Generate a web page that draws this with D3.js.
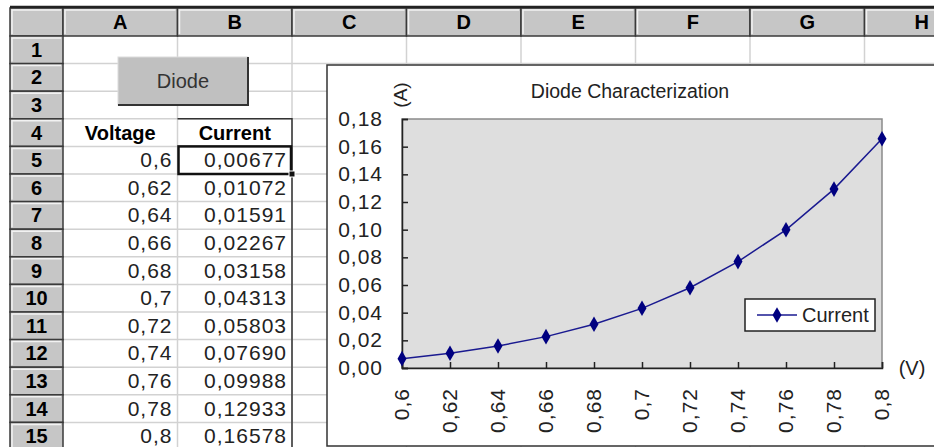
<!DOCTYPE html>
<html>
<head>
<meta charset="utf-8">
<script src="https://cdn.jsdelivr.net/npm/d3@7"></script>
<style>
  body { margin: 0; background: #fff; }
  svg { display: block; font-family: "Liberation Sans", Arial, sans-serif; }
</style>
</head>
<body>
<script>
// sheet contents
const columns = ['A', 'B', 'C', 'D', 'E', 'F', 'G', 'H']
const rowNumbers = [1, 2, 3, 4, 5, 6, 7, 8, 9, 10, 11, 12, 13, 14, 15]
const tableHeaders = ['Voltage', 'Current']
const voltage = [0.6, 0.62, 0.64, 0.66, 0.68, 0.7, 0.72, 0.74, 0.76, 0.78, 0.8]
const current = [0.00677, 0.01072, 0.01591, 0.02267, 0.03158, 0.04313, 0.05803, 0.07690, 0.09988, 0.12933, 0.16578]
const yTicks = [0, 0.02, 0.04, 0.06, 0.08, 0.10, 0.12, 0.14, 0.16, 0.18]
const buttonLabel = 'Diode'
const chartTitle = 'Diode Characterization'
const seriesName = 'Current'
const xUnit = '(V)'
const yUnit = '(A)'

let width = 934
let height = 447

let comma = s => s.replace('.', ',')

const svg = d3.select('body').append('svg')
    .attr('width', width)
    .attr('height', height)

// ---- spreadsheet grid ----
let grid = { left: 10, head: 63, top: 8, headBottom: 36, colW: 114.5, rowH: 27.6 }

let colX = d3.scaleBand()
    .domain(columns)
    .range([grid.head, grid.head + grid.colW * columns.length])

let rowY = d3.scaleBand()
    .domain(rowNumbers)
    .range([grid.headBottom, grid.headBottom + grid.rowH * rowNumbers.length])

// gridlines
svg.append('g')
    .attr('stroke', '#d2d2d2')
    .attr('stroke-width', 1.5)
  .call(g => g.selectAll('line.v')
    .data(columns)
    .join('line')
      .attr('x1', d => colX(d) + colX.bandwidth())
      .attr('x2', d => colX(d) + colX.bandwidth())
      .attr('y1', grid.headBottom)
      .attr('y2', height))
  .call(g => g.selectAll('line.h')
    .data(rowNumbers)
    .join('line')
      .attr('x1', grid.head)
      .attr('x2', width)
      .attr('y1', d => rowY(d) + rowY.bandwidth())
      .attr('y2', d => rowY(d) + rowY.bandwidth()))

// header cells
function headerCell(g, x, y, w, h) {
  g.append('rect').attr('x', x).attr('y', y).attr('width', w).attr('height', h)
    .attr('fill', '#c6c6c6').attr('stroke', '#3a3a3a').attr('stroke-width', 1.5)
  g.append('path')
    .attr('d', `M${x + 2},${y + h - 2}V${y + 2}H${x + w - 2}`)
    .attr('fill', 'none').attr('stroke', '#f2f2f2').attr('stroke-width', 1.5)
}

let heads = svg.append('g')
headerCell(heads, grid.left, grid.top, grid.head - grid.left, grid.headBottom - grid.top)
columns.forEach(c => headerCell(heads, colX(c), grid.top, colX.bandwidth(), grid.headBottom - grid.top))
rowNumbers.forEach(r => headerCell(heads, grid.left, rowY(r), grid.head - grid.left, rowY.bandwidth()))

heads.selectAll('text.col')
  .data(columns)
  .join('text')
    .attr('x', d => colX(d) + colX.bandwidth() / 2)
    .attr('y', (grid.top + grid.headBottom) / 2 + 7)
    .attr('text-anchor', 'middle')
    .style('font-size', '20px')
    .style('font-weight', 'bold')
    .text(d => d)

heads.selectAll('text.row')
  .data(rowNumbers)
  .join('text')
    .attr('x', (grid.left + grid.head) / 2)
    .attr('y', d => rowY(d) + rowY.bandwidth() / 2 + 7)
    .attr('text-anchor', 'middle')
    .style('font-size', '20px')
    .style('font-weight', 'bold')
    .text(d => d)

svg.append('line')
    .attr('x1', grid.left).attr('x2', width)
    .attr('y1', grid.top - 1).attr('y2', grid.top - 1)
    .attr('stroke', '#222').attr('stroke-width', 2.5)

// table: headers in row 4, values from row 5 on
let table = svg.append('g')
let headerRow = 4
tableHeaders.forEach((t, i) => {
  table.append('text')
      .attr('x', colX(columns[i]) + colX.bandwidth() / 2)
      .attr('y', rowY(headerRow) + rowY.bandwidth() / 2 + 7)
      .attr('text-anchor', 'middle')
      .style('font-size', '20px')
      .style('font-weight', 'bold')
      .text(t)
})

let cellText = (col, fmt, values) => table.append('g')
  .selectAll('text')
  .data(values)
  .join('text')
    .attr('x', colX(col) + colX.bandwidth() - 5)
    .attr('y', (d, i) => rowY(headerRow + 1 + i) + rowY.bandwidth() / 2 + 7)
    .attr('text-anchor', 'end')
    .attr('fill', '#222')
    .style('font-size', '21px')
    .style('letter-spacing', '1px')
    .text(fmt)

cellText('A', d => comma(String(d)), voltage)
cellText('B', d => comma(d.toFixed(5)), current)

// border round B4:B15
let bx0 = colX('B'), bx1 = colX('B') + colX.bandwidth()
table.append('path')
    .attr('d', `M${bx0},${rowY(headerRow)}H${bx1}V${height}`)
    .attr('fill', 'none').attr('stroke', '#333').attr('stroke-width', 1.5)

// selected cell B5
table.append('rect')
    .attr('x', bx0 + 1).attr('y', rowY(5))
    .attr('width', colX.bandwidth() - 2).attr('height', rowY.bandwidth())
    .attr('fill', 'none').attr('stroke', '#111').attr('stroke-width', 2.5)
table.append('rect')
    .attr('x', bx1 - 3).attr('y', rowY(5) + rowY.bandwidth() - 3)
    .attr('width', 6).attr('height', 6)
    .attr('fill', '#111').attr('stroke', '#fff').attr('stroke-width', 1)

// button
let btn = { x: 118, y: 57, w: 130, h: 48 }
svg.append('rect')
    .attr('x', btn.x).attr('y', btn.y).attr('width', btn.w).attr('height', btn.h)
    .attr('fill', '#c0c0c0').attr('stroke', '#dcdcdc').attr('stroke-width', 1)
svg.append('path')
    .attr('d', `M${btn.x},${btn.y + btn.h}H${btn.x + btn.w}V${btn.y}`)
    .attr('fill', 'none').attr('stroke', '#333').attr('stroke-width', 2)
svg.append('text')
    .attr('x', btn.x + btn.w / 2).attr('y', btn.y + btn.h / 2 + 7)
    .attr('text-anchor', 'middle')
    .attr('fill', '#333')
    .style('font-size', '20px')
    .text(buttonLabel)

// ---- chart object ----
let frame = { x: 327, y: 65 }
svg.append('rect')
    .attr('x', frame.x).attr('y', frame.y)
    .attr('width', width - frame.x + 20).attr('height', 381)
    .attr('fill', '#fff').attr('stroke', '#333').attr('stroke-width', 1.5)

let plot = { left: 402, right: 882, top: 119, bottom: 368 }

let x = d3.scalePoint()
    .domain(voltage)
    .range([plot.left, plot.right])

let y = d3.scaleLinear()
    .domain([0, 0.18])
    .range([plot.bottom, plot.top])

let chart = svg.append('g')

chart.append('rect')
    .attr('x', plot.left).attr('y', plot.top)
    .attr('width', plot.right - plot.left).attr('height', plot.bottom - plot.top)
    .attr('fill', '#dedede').attr('stroke', '#8a8a8a').attr('stroke-width', 1.5)

chart.append('g')
    .attr('transform', `translate(${plot.left},0)`)
    .call(d3.axisRight(y).tickValues(yTicks).tickSize(6).tickFormat(() => ''))
    .call(g => g.selectAll('line, path').attr('stroke', '#222').attr('stroke-width', 1.5))

chart.append('g')
    .selectAll('text')
    .data(yTicks)
    .join('text')
      .attr('x', 383)
      .attr('y', d => y(d) + 7)
      .attr('text-anchor', 'end')
      .attr('fill', '#222')
      .style('font-size', '21px')
      .style('letter-spacing', '1px')
      .text(d => comma(d3.format('.2f')(d)))

chart.append('g')
    .attr('transform', `translate(0,${plot.bottom})`)
    .call(d3.axisTop(x).tickSize(6).tickFormat(''))
    .call(g => g.selectAll('line, path').attr('stroke', '#222').attr('stroke-width', 1.5))

chart.append('g')
    .selectAll('text')
    .data(voltage)
    .join('text')
      .attr('transform', d => `translate(${x(d) + 7},${plot.bottom + 20}) rotate(-90)`)
      .attr('text-anchor', 'end')
      .attr('fill', '#222')
      .style('font-size', '21px')
      .style('letter-spacing', '1px')
      .text(d => comma(String(d)))

// series
let points = voltage.map((v, i) => [v, current[i]])
let diamond = d3.symbol().type(d3.symbolDiamond).size(70)

chart.append('path')
    .datum(points)
    .attr('fill', 'none')
    .attr('stroke', '#1a1a90')
    .attr('stroke-width', 1.5)
    .attr('d', d3.line().x(d => x(d[0])).y(d => y(d[1])))

chart.append('g')
    .selectAll('path')
    .data(points)
    .join('path')
      .attr('transform', d => `translate(${x(d[0])},${y(d[1])})`)
      .attr('d', diamond)
      .attr('fill', '#000080')

// titles
chart.append('text')
    .attr('x', 630).attr('y', 98)
    .attr('text-anchor', 'middle')
    .attr('fill', '#222')
    .style('font-size', '19.5px')
    .text(chartTitle)

chart.append('text')
    .attr('transform', 'translate(407,95) rotate(-90)')
    .attr('text-anchor', 'middle')
    .attr('fill', '#222')
    .style('font-size', '19px')
    .text(yUnit)

chart.append('text')
    .attr('x', 912).attr('y', plot.bottom + 7)
    .attr('text-anchor', 'middle')
    .attr('fill', '#222')
    .style('font-size', '20px')
    .text(xUnit)

// legend
let legend = chart.append('g').attr('transform', 'translate(745,299)')
legend.append('rect')
    .attr('width', 130).attr('height', 32)
    .attr('fill', '#fff').attr('stroke', '#222').attr('stroke-width', 1.5)
legend.append('line')
    .attr('x1', 12).attr('x2', 52).attr('y1', 16).attr('y2', 16)
    .attr('stroke', '#1a1a90').attr('stroke-width', 1.5)
legend.append('path')
    .attr('transform', 'translate(32,16)')
    .attr('d', diamond)
    .attr('fill', '#000080')
legend.append('text')
    .attr('x', 57).attr('y', 23)
    .attr('fill', '#222')
    .style('font-size', '20px')
    .text(seriesName)
</script>
</body>
</html>
